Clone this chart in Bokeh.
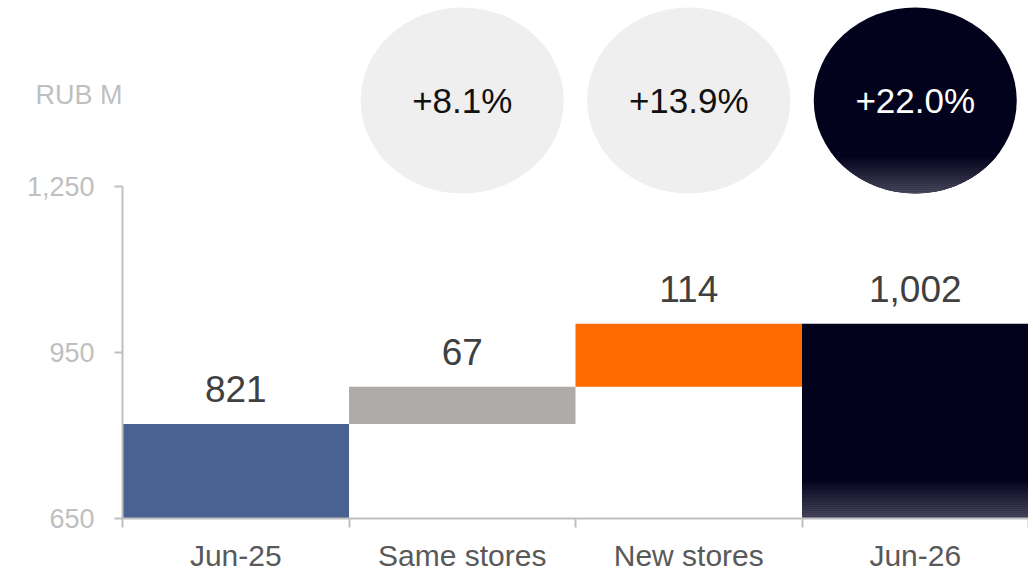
import numpy as np
from bokeh.plotting import figure
from bokeh.models import Range1d, FixedTicker, ColumnDataSource, Label, LinearAxis
from bokeh.embed import file_html
from bokeh.resources import INLINE
from bokeh.core.properties import value

# ---------------- data ----------------
categories = ["Jun-25", "Same stores", "New stores", "Jun-26"]
values = [821, 67, 114, 1002]
kinds = ["total", "delta", "delta", "total"]
value_labels = ["821", "67", "114", "1,002"]
bar_colors = ["#4a6291", "#afaba9", "#ff6a00", "#03021c"]

pct_categories = ["Same stores", "New stores", "Jun-26"]
pct_labels = ["+8.1%", "+13.9%", "+22.0%"]
pct_fill = ["#efefef", "#efefef", "#03021c"]
pct_text_color = ["#111111", "#111111", "#ffffff"]

y_ticks = [650, 950, 1250]
y_tick_labels = ["650", "950", "1,250"]
unit_label = "RUB M"

# ---------------- layout constants ----------------
FONT = "Liberation Sans"
W, H = 1028, 573
LEFT = 122          # px from left edge to the value axis
BASE_Y = 518        # px from top to the category axis
Y0, Y1 = y_ticks[0], y_ticks[-1]
AXIS_PX = 332.0
PX = AXIS_PX / (Y1 - Y0)          # pixels per data unit (y)
y_end = Y0 + BASE_Y / PX
y_start = Y0 - (H - BASE_Y) / PX
n = len(categories)
XPX = (W - LEFT) / n               # pixels per category
x_start = -LEFT / XPX
GRAD_TOP = "#03021c"
GRAD_BOTTOM = "#48475d"

def mix(c1, c2, t):
    a = [int(c1[i:i + 2], 16) for i in (1, 3, 5)]
    b = [int(c2[i:i + 2], 16) for i in (1, 3, 5)]
    return "#%02x%02x%02x" % tuple(round(a[k] + (b[k] - a[k]) * t) for k in range(3))

# waterfall geometry from values
bottoms, tops = [], []
running = 0
for v, k in zip(values, kinds):
    if k == "total":
        bottoms.append(Y0)
        tops.append(v)
        running = v
    else:
        bottoms.append(running)
        tops.append(running + v)
        running += v

centers = [i + 0.5 for i in range(n)]
lefts = [i for i in range(n)]
rights = [i + 1 for i in range(n)]

p = figure(width=W, height=H, output_backend="svg", toolbar_location=None,
           x_range=Range1d(x_start, n), y_range=Range1d(y_start, y_end),
           x_axis_location=None, y_axis_location=None,
           min_border_left=0, min_border_right=0, min_border_top=0,
           min_border_bottom=0)
p.outline_line_color = None
p.xgrid.visible = False
p.ygrid.visible = False
p.background_fill_color = "white"
p.border_fill_color = "white"

# bars
src = ColumnDataSource(dict(left=lefts, right=rights, bottom=bottoms, top=tops,
                            color=bar_colors, x=centers, label=value_labels))
p.quad(left="left", right="right", bottom="bottom", top="top",
       fill_color="color", line_color=None, source=src)

# bottom gradient of the last (total) bar
last = n - 1
g_px = 40
steps = 20
for i in range(steps):
    yb = bottoms[last] + i * (g_px / steps) / PX
    yt = bottoms[last] + (i + 1.15) * (g_px / steps) / PX
    c = mix(GRAD_BOTTOM, GRAD_TOP, i / (steps - 1))
    p.quad(left=lefts[last], right=rights[last], bottom=yb, top=min(yt, tops[last]),
           fill_color=c, line_color=None)

# value labels
p.text(x="x", y="top", text="label", source=src, y_offset=-35,
       text_align="center", text_baseline="alphabetic",
       text_font=value(FONT), text_font_size="37px", text_color="#404040")

# percentage bubbles
EW, EH = 203, 186
yc = y_end - 100 / PX
pc_x = [categories.index(c) + 0.5 for c in pct_categories]
esrc = ColumnDataSource(dict(x=pc_x, y=[yc] * len(pc_x), fill=pct_fill,
                             text=pct_labels, tc=pct_text_color))
p.ellipse(x="x", y="y", width=EW, height=EH, width_units="screen",
          height_units="screen", fill_color="fill", line_color=None, source=esrc)

# gradient at bottom of dark bubble
a, b = EW / 2, EH / 2
cx = pc_x[-1]
g_e = 38
st = 19
xs, ys, cols = [], [], []
for j in range(st):
    lo = -b + j * g_e / st
    hi = min(-b + (j + 1.15) * g_e / st, b)
    yy = np.linspace(lo, hi, 6)
    hw = a * np.sqrt(np.clip(1 - (yy / b) ** 2, 0, 1))
    px_x = list(cx - hw / XPX) + list((cx + hw / XPX)[::-1])
    px_y = list(yc + yy / PX) + list((yc + yy / PX)[::-1])
    xs.append(px_x)
    ys.append(px_y)
    cols.append(mix(GRAD_BOTTOM, GRAD_TOP, j / (st - 1)))
p.patches(xs=xs, ys=ys, fill_color=cols, line_color=None)

p.text(x="x", y="y", text="text", source=esrc, text_color="tc",
       text_align="center", text_baseline="middle",
       text_font=value(FONT), text_font_size="35px")

# y axis, fixed at the left edge of the first bar
yax = LinearAxis(fixed_location=0)
yax.ticker = FixedTicker(ticks=y_ticks, minor_ticks=[])
yax.major_label_overrides = {t: l for t, l in zip(y_ticks, y_tick_labels)}
yax.bounds = (Y0, Y1)
yax.axis_line_color = "#bfbfbf"
yax.axis_line_width = 2
yax.major_tick_line_color = "#bfbfbf"
yax.major_tick_line_width = 2
yax.major_tick_out = 8
yax.major_tick_in = 0
yax.minor_tick_line_color = None
yax.major_label_standoff = 20
yax.major_label_text_font = FONT
yax.major_label_text_font_size = "27px"
yax.major_label_text_color = "#bfbfbf"
p.add_layout(yax, "left")

# x axis with category labels, boundary ticks as minor ticks
xax = LinearAxis(fixed_location=Y0)
xax.bounds = (0, n)
xax.ticker = FixedTicker(ticks=centers, minor_ticks=list(range(n + 1)))
xax.major_label_overrides = {c: t for c, t in zip(centers, categories)}
xax.axis_line_color = "#bfbfbf"
xax.axis_line_width = 2
xax.major_tick_line_color = None
xax.major_tick_out = 0
xax.major_tick_in = 0
xax.minor_tick_line_color = "#bfbfbf"
xax.minor_tick_line_width = 2
xax.minor_tick_out = 9
xax.minor_tick_in = 0
xax.major_label_standoff = 11
xax.major_label_text_font = FONT
xax.major_label_text_font_size = "30px"
xax.major_label_text_color = "#595959"
p.add_layout(xax, "below")

# unit label
p.add_layout(Label(x=0, y=y_end - 94 / PX, text=unit_label, text_align="right",
                   text_baseline="middle", text_font=FONT,
                   text_font_size="27px", text_color="#bfbfbf"))

open("out.html", "w").write(file_html(p, INLINE))
